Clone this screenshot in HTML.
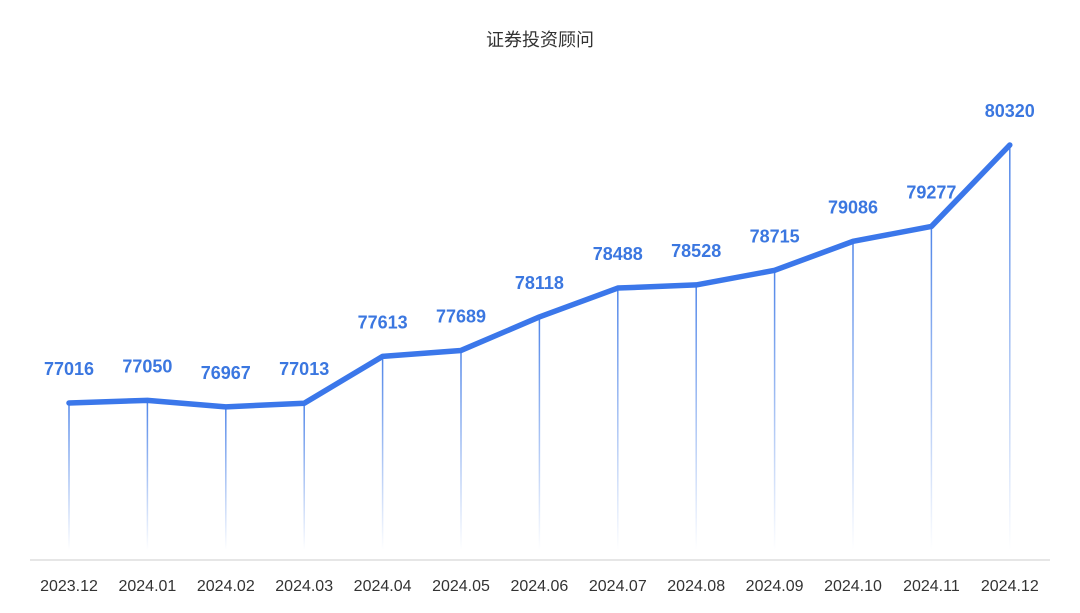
<!DOCTYPE html>
<html><head><meta charset="utf-8"><style>
body{margin:0;background:#fff;}
svg{display:block;font-family:"Liberation Sans","Noto Sans CJK SC",sans-serif;}
</style></head><body>
<svg id="chart" width="1080" height="613">
<defs><linearGradient id="fade" x1="0" y1="0" x2="0" y2="1">
<stop offset="0" stop-color="#3b77e6" stop-opacity="0.9"/><stop offset="1" stop-color="#3b77e6" stop-opacity="0"/></linearGradient></defs>
<text x="540" y="46" text-anchor="middle" font-size="18" fill="#333">证券投资顾问</text>
<line x1="30" y1="560" x2="1050" y2="560" stroke="#ddd" stroke-width="1.5"/>
</svg>
<script>
const categories=["2023.12","2024.01","2024.02","2024.03","2024.04","2024.05","2024.06","2024.07","2024.08","2024.09","2024.10","2024.11","2024.12"];
const values=[77016,77050,76967,77013,77613,77689,78118,78488,78528,78715,79086,79277,80320];
const svg=document.getElementById('chart');
const NS='http://www.w3.org/2000/svg';
function xPos(i){return 69+i*78.4;}
function yPos(v){return 403-(v-77016)*(258/3304);}
function mk(t,a){const e=document.createElementNS(NS,t);for(const k in a)e.setAttribute(k,a[k]);svg.appendChild(e);return e;}
values.forEach((v,i)=>{
 const d=mk('rect',{x:xPos(i)-0.75,y:yPos(v),width:1.5,height:550-yPos(v),fill:'url(#fade)'});
 
 
});
const pts=values.map((v,i)=>xPos(i)+','+yPos(v)).join(' ');
const pl=mk('polyline',{points:pts,fill:'none',stroke:'#3b77ea','stroke-width':5.5,'stroke-linejoin':'round','stroke-linecap':'round'});


values.forEach((v,i)=>{
 const t=mk('text',{x:xPos(i),y:yPos(v)-28,'text-anchor':'middle','font-size':18,'font-weight':'bold',fill:'#3b77e0'});
 t.textContent=v;
 
 
});
categories.forEach((c,i)=>{
 const t=mk('text',{x:xPos(i),y:591,'text-anchor':'middle','font-size':16,fill:'#333'});
 t.textContent=c;
 
 
});
</script>
</body></html>
